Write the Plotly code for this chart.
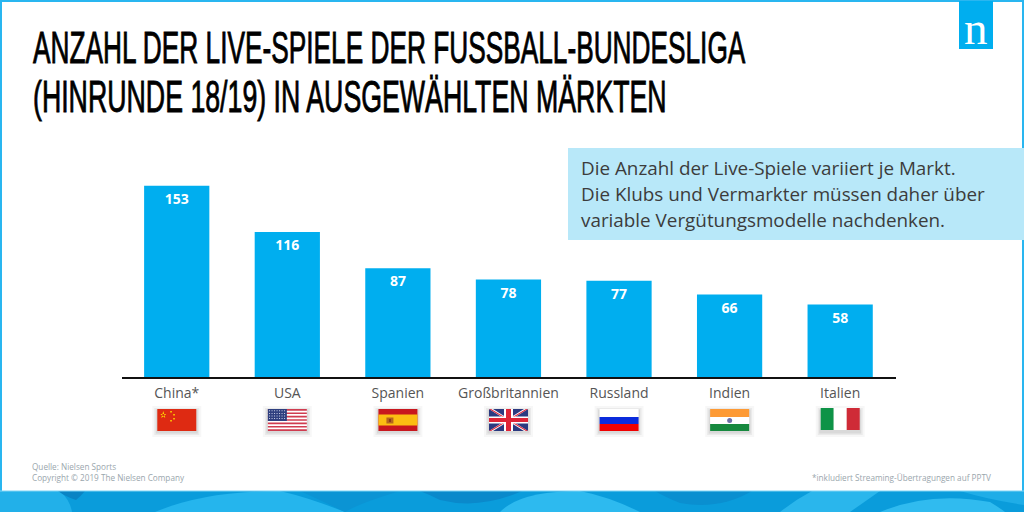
import json
import plotly.graph_objects as go

categories = ["China*", "USA", "Spanien", "Großbritannien", "Russland", "Indien", "Italien"]
values = [153, 116, 87, 78, 77, 66, 58]
title_lines = ["ANZAHL DER LIVE-SPIELE DER FUSSBALL-BUNDESLIGA", "(HINRUNDE 18/19) IN AUSGEWÄHLTEN MÄRKTEN"]
title_widths = [713, 634]
note_lines = ["Die Anzahl der Live-Spiele variiert je Markt.",
              "Die Klubs und Vermarkter müssen daher über",
              "variable Vergütungsmodelle nachdenken."]
source_lines = ["Quelle: Nielsen Sports", "Copyright © 2019 The Nielsen Company"]
footnote = "*inkludiert Streaming-Übertragungen auf PPTV"

W, H = 1024, 512
L, R, T, B = 122, 128, 130, 135
PW, PH = W - L - R, H - T - B
BLUE = "#00aeef"
shapes = []
annotations = []


def px(x):
    return (x - L) / PW


def py(y):
    return (H - B - y) / PH


def rect(x0, y0, x1, y1, color, layer="above"):
    shapes.append(dict(type="rect", xref="paper", yref="paper", x0=px(x0), x1=px(x1), y0=py(y1), y1=py(y0),
                       fillcolor=color, line_width=0, layer=layer))


def path(points, color, layer="above"):
    d = "M " + " L ".join(f"{px(x):.5f},{py(y):.5f}" for x, y in points) + " Z"
    shapes.append(dict(type="path", xref="paper", yref="paper", path=d, fillcolor=color, line_width=0, layer=layer))


def curve(start, segs, color):
    """closed shape made of quadratic curves: segs = [(cx, cy, x, y), ...]"""
    d = f"M {px(start[0]):.5f},{py(start[1]):.5f}"
    for cx, cy, x, y in segs:
        d += f" Q {px(cx):.5f},{py(cy):.5f} {px(x):.5f},{py(y):.5f}"
    d += " Z"
    shapes.append(dict(type="path", xref="paper", yref="paper", path=d, fillcolor=color, line_width=0, layer="above"))


def text(x, y, s, size, color, family="Open Sans", anchor="left"):
    font = dict(family=family, size=size, color=color)
    annotations.append(dict(xref="paper", yref="paper", x=px(x), y=py(y), text=s, showarrow=False,
                            xanchor=anchor, yanchor="middle", align=anchor, font=font, borderpad=0))


# frame
rect(0, 0, 1024, 2, "#29b6f0")
rect(0, 0, 2, 491, "#29b6f0")
rect(1022, 0, 1024, 491, "#29b6f0")

# bottom band
rect(0, 491, 1024, 512, "#0a9cdb")
curve((0, 491), [(30, 491, 60, 491), (70, 500, 72, 512), (30, 512, 0, 512), (0, 500, 0, 491)], "#22b0e9")
curve((58, 491), [(70, 491, 85, 491), (80, 497, 76, 500), (66, 497, 58, 491)], "#0a84c4")
curve((155, 512), [(205, 491, 280, 491), (310, 498, 345, 512), (250, 512, 155, 512)], "#25b5ed")
curve((300, 491), [(340, 491, 400, 491), (360, 503, 345, 512), (320, 500, 300, 491)], "#0b94d4")
curve((420, 491), [(470, 491, 522, 491), (480, 510, 440, 500), (430, 495, 420, 491)], "#0a89cb")
curve((500, 512), [(520, 491, 580, 491), (610, 497, 640, 512), (570, 512, 500, 512)], "#2dbaef")
curve((655, 491), [(700, 491, 752, 491), (720, 510, 680, 503), (665, 497, 655, 491)], "#0a8fd0")
curve((812, 491), [(850, 491, 880, 491), (860, 505, 850, 512), (800, 512, 780, 512), (795, 500, 812, 491)], "#2ab6ec")
curve((880, 512), [(930, 491, 990, 502), (1000, 508, 1005, 512), (940, 512, 880, 512)], "#30bbef")
curve((960, 491), [(990, 491, 1024, 491), (1024, 497, 1024, 505), (990, 500, 960, 491)], "#1fade7")
rect(0, 490.5, 1024, 491.5, "#7fd4f5")

# logo
rect(959, 1, 993, 49, BLUE)
text(976, 28, "n", 47, "#ffffff", "Liberation Serif", "center")

# callout
rect(568, 148, 1024, 240, "#b8e8f9")
for y, s in zip([168, 194, 220], note_lines):
    text(580, y, s, 18.85, "#3c3c3c")

# title (horizontally condensed by the post script below)
for y, s in zip([47, 96], title_lines):
    text(32, y, s, 44, "#000000", "Liberation Sans")

# footer
for y, s in zip([466, 477], source_lines):
    text(31, y, s, 8.2, "#9aa6ad")
text(992, 477, footnote, 8.2, "#9aa6ad", anchor="right")


# flags
def shadow(x, y):
    for g, a in [(5, .03), (3, .05), (1.5, .07)]:
        rect(x - g, y - g + 2, x + 39 + g, y + 22 + g + 1, f"rgba(0,0,0,{a})")


def china(x, y):
    rect(x, y, x + 39, y + 22, "#de2a12")
    path([(x + 6, y + 2), (x + 8, y + 9), (x + 3, y + 5), (x + 9, y + 5), (x + 4, y + 9)], "#ffde00")
    for dx, dy in [(13, 2), (16, 5), (16, 9), (13, 11)]:
        rect(x + dx, y + dy, x + dx + 1.5, y + dy + 1.5, "#ffde00")


def usa(x, y):
    rect(x, y, x + 39, y + 22, "#ffffff")
    for i in range(0, 13, 2):
        rect(x, y + i * 22 / 13, x + 39, y + (i + 1) * 22 / 13, "#cf3c50")
    rect(x, y, x + 19, y + 12, "#2f3f7f")
    for j in range(4):
        for i in range(7):
            rect(x + 1.2 + i * 2.5, y + 1.3 + j * 2.6, x + 2.2 + i * 2.5, y + 2.3 + j * 2.6, "#c9cfe6")


def spain(x, y):
    rect(x, y, x + 39, y + 22, "#c8171e")
    rect(x, y + 5.5, x + 39, y + 16.5, "#fbbe12")
    rect(x + 8, y + 8.5, x + 15, y + 14.5, "#b5651e")
    rect(x + 10.5, y + 10, x + 12.5, y + 13, "#8a3a1e")


def uk(x, y):
    rect(x, y, x + 39, y + 22, "#2b3a80")
    X0, X1, Y0, Y1 = x, x + 39, y, y + 22
    path([(X0, Y0), (X0 + 4, Y0), (X1, Y1), (X1 - 4, Y1)], "#ffffff")
    path([(X0, Y1), (X0 + 4, Y1), (X1, Y0), (X1 - 4, Y0)], "#ffffff")
    path([(X0, Y0), (X0 + 2, Y0), (X1, Y1), (X1 - 2, Y1)], "#df2436")
    path([(X0, Y1), (X0 + 2, Y1), (X1, Y0), (X1 - 2, Y0)], "#df2436")
    rect(x + 15, y, x + 24, y + 22, "#ffffff")
    rect(x, y + 7.5, x + 39, y + 14.5, "#ffffff")
    rect(x + 17, y, x + 22, y + 22, "#df2436")
    rect(x, y + 9, x + 39, y + 13, "#df2436")


def russia(x, y):
    rect(x, y, x + 39, y + 8, "#ffffff")
    rect(x, y + 8, x + 39, y + 15, "#0a2bdc")
    rect(x, y + 15, x + 39, y + 22, "#f00000")


def india(x, y):
    rect(x, y, x + 39, y + 8, "#fd9a35")
    rect(x, y + 8, x + 39, y + 15, "#ffffff")
    rect(x, y + 15, x + 39, y + 22, "#17893f")
    shapes.append(dict(type="circle", xref="paper", yref="paper", x0=px(x + 17), x1=px(x + 22), y0=py(y + 14), y1=py(y + 9),
                       fillcolor="#6d6fa8", line_width=0))


def italy(x, y):
    rect(x, y - 1, x + 13, y + 21, "#0e9347")
    rect(x + 13, y - 1, x + 26, y + 21, "#ffffff")
    rect(x + 26, y - 1, x + 39, y + 21, "#cf2b37")


flag_painters = [china, usa, spain, uk, russia, india, italy]
STEP = PW / len(categories)
for i, paint in enumerate(flag_painters):
    fx = L + (i + 0.5) * STEP - 20
    shadow(fx, 409)
    paint(fx, 409)

fig = go.Figure(go.Bar(
    x=categories, y=values, width=0.59, marker=dict(color=BLUE, line_width=0),
    text=values, textposition="inside", insidetextanchor="end", textangle=0,
    insidetextfont=dict(family="Open Sans", size=14, color="#ffffff", weight=700),
))
fig.update_layout(
    width=W, height=H, autosize=False, showlegend=False,
    margin=dict(l=L, r=R, t=T, b=B), paper_bgcolor="#ffffff", plot_bgcolor="#ffffff",
    shapes=shapes, annotations=annotations,
    xaxis=dict(type="category", range=[-0.495, 6.505], showline=True, linecolor="#111111", linewidth=2, ticks="",
               tickfont=dict(family="Open Sans", size=14, color="#555555"), showgrid=False, automargin=False,
               ticklabelstandoff=2),
    yaxis=dict(range=[0, 197.6], visible=False, showgrid=False, zeroline=False),
)
post = """
document.documentElement.style.margin='0';document.body.style.margin='0';
var targets=%s;
document.querySelectorAll('.annotation-text').forEach(function(el){
  var w=targets[el.textContent]; if(!w) return;
  var b=el.getBBox(), s=w/b.width;
  el.setAttribute('transform','translate('+(b.x*(1-s))+',0) scale('+s+',1)');
  el.style.stroke='#000000'; el.style.strokeWidth='0.9px';
});
""" % json.dumps(dict(zip(title_lines, title_widths)), ensure_ascii=False)
fig.write_html("out.html", config=dict(displayModeBar=False), post_script=post)
